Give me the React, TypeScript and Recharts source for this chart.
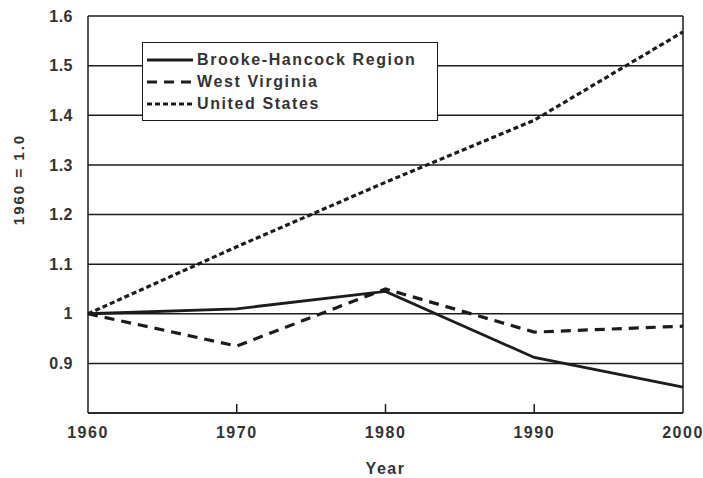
import React from "react";
import {
  LineChart,
  Line,
  XAxis,
  YAxis,
  CartesianGrid,
  ReferenceLine,
} from "recharts";

const years = [1960, 1970, 1980, 1990, 2000];
const brookeHancock = [1.0, 1.01, 1.045, 0.912, 0.852];
const westVirginia = [1.0, 0.935, 1.05, 0.963, 0.975];
const unitedStates = [1.0, 1.135, 1.265, 1.39, 1.568];
const yTicks = [0.9, 1.0, 1.1, 1.2, 1.3, 1.4, 1.5, 1.6];

const data = years.map((year, i) => ({
  year,
  bh: brookeHancock[i],
  wv: westVirginia[i],
  us: unitedStates[i],
}));

const FONT = "Arial, 'Liberation Sans', sans-serif";
const INK = "#1c1c1c";
const TEXT = "#333";
const Y_MIN = 0.8;
const Y_MAX = 1.6;
const TICK_LEN = 0.018; // inner tick marks on the x axis, in y units (~9px)

const SERIES = [
  { key: "bh", name: "Brooke-Hancock Region", dash: undefined },
  { key: "wv", name: "West Virginia", dash: "10 7" },
  { key: "us", name: "United States", dash: "5 3" },
];

function YearTick({ x, y, payload }: any) {
  return (
    <text x={x} y={y} dy={13} textAnchor="middle" fill={TEXT} fontSize={16} fontWeight="bold" fontFamily={FONT} letterSpacing={1.5}>
      {payload.value}
    </text>
  );
}

// rotated y title, sits a bit above the plot's middle like the original
function YTitle({ viewBox }: any) {
  const cx = 18;
  const cy = viewBox.y + viewBox.height / 2 - 35;
  return (
    <text
      x={cx}
      y={cy}
      transform={`rotate(-90 ${cx} ${cy})`}
      textAnchor="middle"
      dominantBaseline="central"
      fill={TEXT}
      fontSize={15}
      fontWeight="bold"
      fontFamily={FONT}
      letterSpacing={2}
    >
      1960 = 1.0
    </text>
  );
}

function LegendBox() {
  return (
    <div
      style={{
        position: "absolute",
        left: 142,
        top: 42,
        zIndex: 2,
        width: 296,
        height: 79,
        border: `1.5px solid ${INK}`,
        background: "#fff",
        boxSizing: "border-box",
        paddingTop: 6,
        fontFamily: FONT,
      }}
    >
      {SERIES.map((s) => (
        <div key={s.key} style={{ display: "flex", alignItems: "center", height: 22 }}>
          <svg width={50} height={10} style={{ marginLeft: 4 }}>
            <line x1={0} x2={46} y1={5} y2={5} stroke={INK} strokeWidth={3} strokeDasharray={s.dash} />
          </svg>
          <span style={{ fontSize: 16, fontWeight: "bold", color: TEXT, letterSpacing: 1.6 }}>{s.name}</span>
        </div>
      ))}
    </div>
  );
}

export default function App() {
  return (
    <div style={{ position: "absolute", left: 0, top: 0, width: 703, height: 478, background: "#fff" }}>
      <LineChart width={703} height={478} data={data} margin={{ top: 16, right: 20, bottom: 36, left: 0 }}>
        <CartesianGrid horizontal vertical={false} stroke={INK} strokeWidth={1.5} strokeOpacity={1} />
        <XAxis
          dataKey="year"
          type="number"
          domain={[1960, 2000]}
          ticks={years}
          tick={<YearTick />}
          tickLine={false}
          tickSize={0}
          tickMargin={12}
          height={29}
          axisLine={{ stroke: INK, strokeWidth: 1.5 }}
          label={{ value: "Year", position: "insideBottom", offset: -32, fill: TEXT, fontSize: 16, fontWeight: "bold", fontFamily: FONT, letterSpacing: 1.5 }}
        />
        <YAxis
          type="number"
          domain={[Y_MIN, Y_MAX]}
          ticks={yTicks}
          width={88}
          tickLine={false}
          tickMargin={9}
          tickFormatter={(v: number) => String(Number(v.toFixed(1)))}
          tick={{ fill: TEXT, fontSize: 16, fontWeight: "bold", fontFamily: FONT, letterSpacing: 0.5 }}
          axisLine={{ stroke: INK, strokeWidth: 1.5 }}
          label={<YTitle />}
        />
        <ReferenceLine x={2000} stroke={INK} strokeWidth={1.5} />
        {years.slice(1, -1).map((yr) => (
          <ReferenceLine
            key={yr}
            segment={[{ x: yr, y: Y_MIN }, { x: yr, y: Y_MIN + TICK_LEN }]}
            stroke={INK}
            strokeWidth={1.5}
          />
        ))}
        {SERIES.map((s) => (
          <Line
            key={s.key}
            dataKey={s.key}
            name={s.name}
            type="linear"
            stroke={INK}
            strokeWidth={s.key === "bh" ? 2.8 : 3.2}
            strokeDasharray={s.dash}
            dot={false}
            activeDot={false}
            isAnimationActive={false}
          />
        ))}
      </LineChart>
      <LegendBox />
    </div>
  );
}
